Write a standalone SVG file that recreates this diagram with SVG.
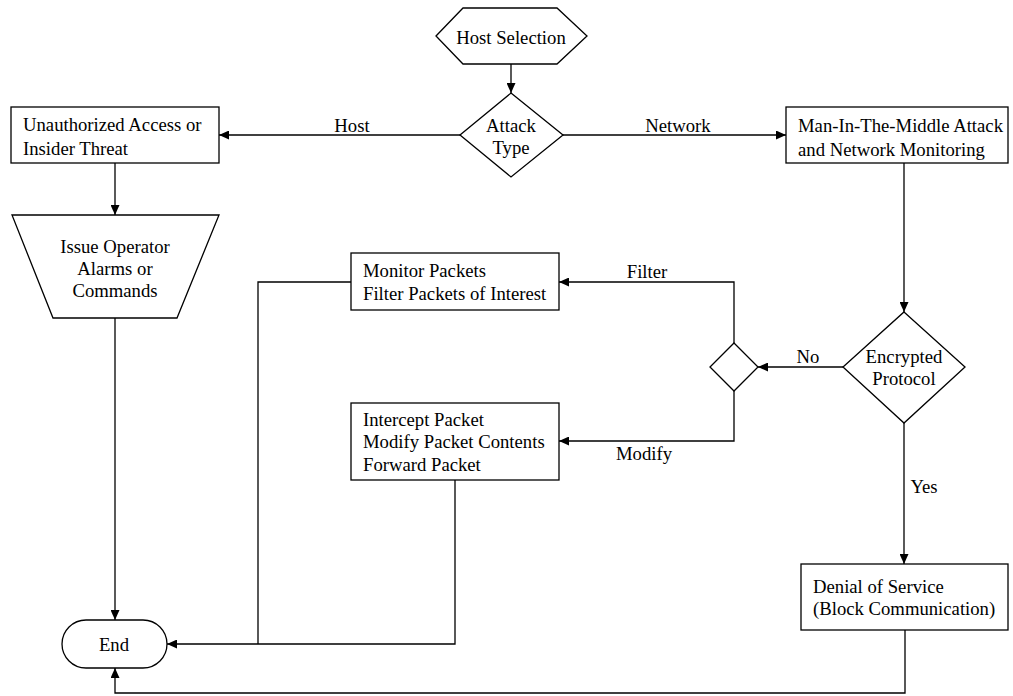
<svg xmlns="http://www.w3.org/2000/svg" width="1013" height="696" viewBox="0 0 1013 696" font-family="Liberation Serif, serif" font-size="18.7">
<style>
.s{fill:#fff;stroke:#000;stroke-width:1.3}
.c{fill:none;stroke:#000;stroke-width:1.3}
text{fill:#000}
.m{text-anchor:middle}
</style>
<defs>
<marker id="a" markerUnits="userSpaceOnUse" markerWidth="11" markerHeight="9" refX="10" refY="4.5" orient="auto">
<path d="M0,0 L10,4.5 L0,9 z" fill="#000"/>
</marker>
</defs>
<rect width="1013" height="696" fill="#fff"/>
<g id="connectors">
<path class="c" d="M511,64 V93" marker-end="url(#a)"/>
<path class="c" d="M460,135 H219" marker-end="url(#a)"/>
<path class="c" d="M563,135 H786" marker-end="url(#a)"/>
<path class="c" d="M115,163 V215" marker-end="url(#a)"/>
<path class="c" d="M904,163 V312" marker-end="url(#a)"/>
<path class="c" d="M843,367 H758" marker-end="url(#a)"/>
<path class="c" d="M734,343 V282 H559" marker-end="url(#a)"/>
<path class="c" d="M734,391 V441 H559" marker-end="url(#a)"/>
<path class="c" d="M904,423 V564" marker-end="url(#a)"/>
<path class="c" d="M115,318 V620" marker-end="url(#a)"/>
<path class="c" d="M351,282 H258 V644"/>
<path class="c" d="M455,480 V644 H167" marker-end="url(#a)"/>
<path class="c" d="M905,630 V693 H115 V668" marker-end="url(#a)"/>
<text class="m" x="352" y="132">Host</text>
<text class="m" x="678" y="132">Network</text>
<text class="m" x="647" y="278">Filter</text>
<text class="m" x="644" y="460">Modify</text>
<text class="m" x="808" y="363">No</text>
<text class="m" x="924" y="493">Yes</text>
</g>
<g id="host-selection">
<polygon class="s" points="436,36 463,8 557,8 587,36 557,64 463,64"/>
<text class="m" x="511" y="44">Host Selection</text>
</g>
<g id="attack-type">
<polygon class="s" points="511,93 563,135 511,177 460,135"/>
<text class="m" x="511" y="132">Attack</text>
<text class="m" x="511" y="154">Type</text>
</g>
<g id="unauthorized">
<rect class="s" x="11" y="107" width="208" height="56"/>
<text x="23" y="131">Unauthorized Access or</text>
<text x="23" y="155">Insider Threat</text>
</g>
<g id="mitm">
<rect class="s" x="786" y="107" width="222" height="56"/>
<text x="798" y="132">Man-In-The-Middle Attack</text>
<text x="798" y="156">and Network Monitoring</text>
</g>
<g id="issue-operator">
<polygon class="s" points="12,215 219,215 177,318 53,318"/>
<text class="m" x="115" y="253">Issue Operator</text>
<text class="m" x="115" y="275">Alarms or</text>
<text class="m" x="115" y="297">Commands</text>
</g>
<g id="monitor">
<rect class="s" x="351" y="253" width="208" height="57"/>
<text x="363" y="277">Monitor Packets</text>
<text x="363" y="300">Filter Packets of Interest</text>
</g>
<g id="choice">
<polygon class="s" points="734,343 758,367 734,391 710,367"/>
</g>
<g id="encrypted">
<polygon class="s" points="904,312 965,367 904,423 843,367"/>
<text class="m" x="904" y="363">Encrypted</text>
<text class="m" x="904" y="385">Protocol</text>
</g>
<g id="intercept">
<rect class="s" x="351" y="403" width="208" height="77"/>
<text x="363" y="426">Intercept Packet</text>
<text x="363" y="448">Modify Packet Contents</text>
<text x="363" y="471">Forward Packet</text>
</g>
<g id="dos">
<rect class="s" x="801" y="564" width="207" height="66"/>
<text x="813" y="593">Denial of Service</text>
<text x="813" y="615">(Block Communication)</text>
</g>
<g id="end">
<rect class="s" x="62" y="620" width="105" height="48" rx="24" ry="24"/>
<text class="m" x="114" y="651">End</text>
</g>
</svg>
